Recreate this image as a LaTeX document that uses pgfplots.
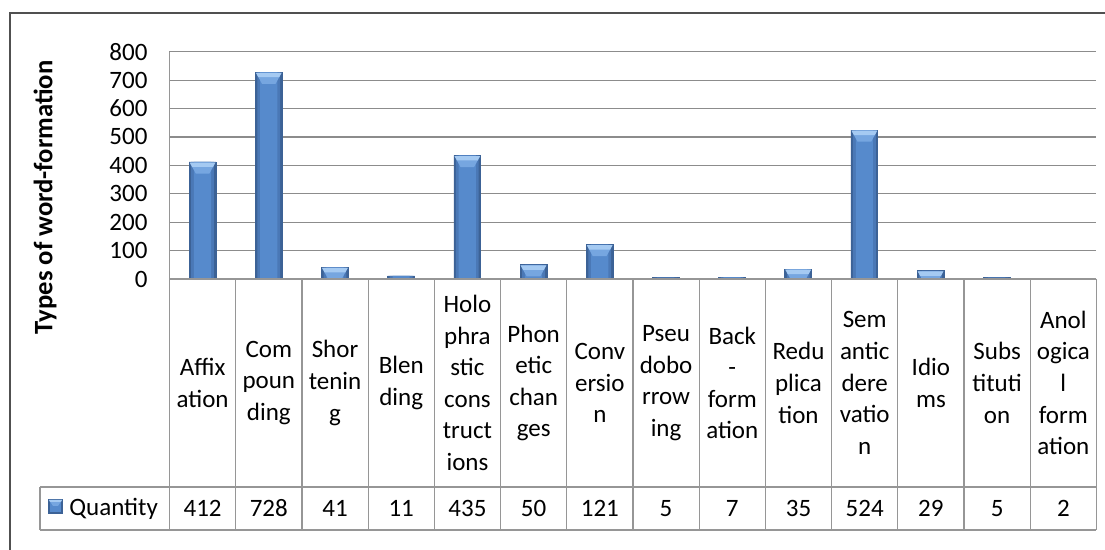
\documentclass[border=0pt]{standalone}
\usepackage{pgfplots}
\pgfplotsset{compat=1.18}
\usepackage{fontspec}
\usepackage{graphicx}
\setmainfont{Carlito}
\definecolor{barOuter}{RGB}{60,98,150}
\definecolor{barMid}{RGB}{74,120,182}
\definecolor{barInner}{RGB}{86,138,204}
\definecolor{chevTop}{RGB}{165,202,242}
\definecolor{chevBot}{RGB}{118,166,224}
\definecolor{gridgray}{RGB}{140,140,140}
\definecolor{tablegray}{RGB}{150,150,150}
\definecolor{framegray}{RGB}{80,80,80}
\pgfdeclareplotmark{chev}{%
  \pgfsetfillcolor{chevBot}%
  \pgfpathmoveto{\pgfqpoint{-6.4pt}{-0.3pt}}%
  \pgfpathlineto{\pgfqpoint{6.4pt}{-0.3pt}}%
  \pgfpathlineto{\pgfqpoint{3.4pt}{-5.8pt}}%
  \pgfpathlineto{\pgfqpoint{-3.4pt}{-5.8pt}}%
  \pgfpathclose
  \pgfusepathqfill
  \pgfsetfillcolor{chevTop}%
  \pgfpathmoveto{\pgfqpoint{-6.4pt}{-0.3pt}}%
  \pgfpathlineto{\pgfqpoint{6.4pt}{-0.3pt}}%
  \pgfpathlineto{\pgfqpoint{5.2pt}{-2.5pt}}%
  \pgfpathlineto{\pgfqpoint{-5.2pt}{-2.5pt}}%
  \pgfpathclose
  \pgfusepathqfill}
\begin{document}
\begin{tikzpicture}
\useasboundingbox (0,0) rectangle (552.5pt,-275pt);
\begin{axis}[
  at={(84.75pt,-139.5pt)}, anchor=south west,
  scale only axis, width=463.25pt, height=113.65pt,
  xmin=0, xmax=14, ymin=0, ymax=800,
  ytick={0,100,...,800}, xtick=\empty,
  ymajorgrids, grid style={draw=gridgray, line width=0.6pt},
  axis line style={draw=none},
  major tick length=0pt,
  yticklabel style={font=\fontsize{12.5}{15}\selectfont, anchor=east, xshift=-7.5pt},
  /pgf/number format/assume math mode=true,
  clip marker paths=true,
  ybar, bar shift=0pt]
\addplot[draw=barOuter, line width=0.3pt, fill=barOuter, bar width=13.4pt]
  coordinates {(0.5,412) (1.5,728) (2.5,41) (3.5,11) (4.5,435) (5.5,50) (6.5,121)
               (7.5,5) (8.5,7) (9.5,35) (10.5,524) (11.5,29) (12.5,5) (13.5,2)};
\addplot[draw=none, fill=barMid, bar width=11.4pt]
  coordinates {(0.5,412) (1.5,728) (2.5,41) (3.5,11) (4.5,435) (5.5,50) (6.5,121)
               (7.5,5) (8.5,7) (9.5,35) (10.5,524) (11.5,29) (12.5,5) (13.5,2)};
\addplot[draw=none, fill=barInner, bar width=8.6pt]
  coordinates {(0.5,412) (1.5,728) (2.5,41) (3.5,11) (4.5,435) (5.5,50) (6.5,121)
               (7.5,5) (8.5,7) (9.5,35) (10.5,524) (11.5,29) (12.5,5) (13.5,2)};
\addplot[only marks, mark=chev]
  coordinates {(0.5,412) (1.5,728) (2.5,41) (4.5,435) (5.5,50) (6.5,121)
               (9.5,35) (10.5,524) (11.5,29)};
\end{axis}
\begin{scope}[x=0.5pt, y=-0.5pt]
  % chart frame (partly cropped)
  \draw[framegray, line width=0.9pt] (10,560) -- (10,13) -- (1115,13);
  % y title
  \node[rotate=90, inner sep=0pt] at (45,197.5) {\resizebox{137pt}{!}{\bfseries\fontsize{12.5}{15}\selectfont Types of word-formation}};
  % table lines
  \draw[tablegray, line width=0.6pt] (169.5,51.7) -- (169.5,530);
  \foreach \k in {1,...,14} {
    \draw[tablegray, line width=0.6pt] ({169.5+\k*66.21},279) -- ({169.5+\k*66.21},530);
  }
  \draw[tablegray, line width=0.6pt] (169.5,279) -- (1096.4,279);
  \draw[tablegray, line width=0.6pt] (40,487) -- (1096.4,487);
  \draw[tablegray, line width=0.6pt] (40,530) -- (1096.4,530);
  \draw[tablegray, line width=0.6pt] (40,487) -- (40,530);
  % category labels
  \foreach \i/\t in {0/{Affix\\ation}, 1/{Com\\poun\\ding}, 2/{Shor\\tenin\\g}, 3/{Blen\\ding},
     4/{Holo\\phra\\stic\\cons\\truct\\ions}, 5/{Phon\\etic\\chan\\ges}, 6/{Conv\\ersio\\n},
     7/{Pseu\\dobo\\rrow\\ing}, 8/{Back\\-\\form\\ation}, 9/{Redu\\plica\\tion},
     10/{Sem\\antic\\dere\\vatio\\n}, 11/{Idio\\ms}, 12/{Subs\\tituti\\on}, 13/{Anol\\ogica\\l\\form\\ation}} {
    \node[align=center, inner sep=0pt, font=\fontsize{12.5}{15.8}\selectfont] at ({169.5+(\i+0.5)*66.21},383) {\t};
  }
  % values
  \foreach \i/\v in {0/412, 1/728, 2/41, 3/11, 4/435, 5/50, 6/121, 7/5, 8/7, 9/35, 10/524, 11/29, 12/5, 13/2} {
    \node[inner sep=0pt, font=\fontsize{12.5}{15}\selectfont] at ({169.5+(\i+0.5)*66.21},508.5) {\v};
  }
  % legend key
  \fill[barOuter] (48,499) rectangle (63,514);
  \fill[barInner] (50,501) rectangle (61,512);
  \fill[chevBot] (49,500) -- (62,500) -- (58,506) -- (53,506) -- cycle;
  \fill[chevTop] (49,500) -- (62,500) -- (61,502) -- (50,502) -- cycle;
  \node[anchor=west, inner sep=0pt, font=\fontsize{12.5}{15}\selectfont] at (69,508.5) {Quantity};
\end{scope}
\end{tikzpicture}
\end{document}
